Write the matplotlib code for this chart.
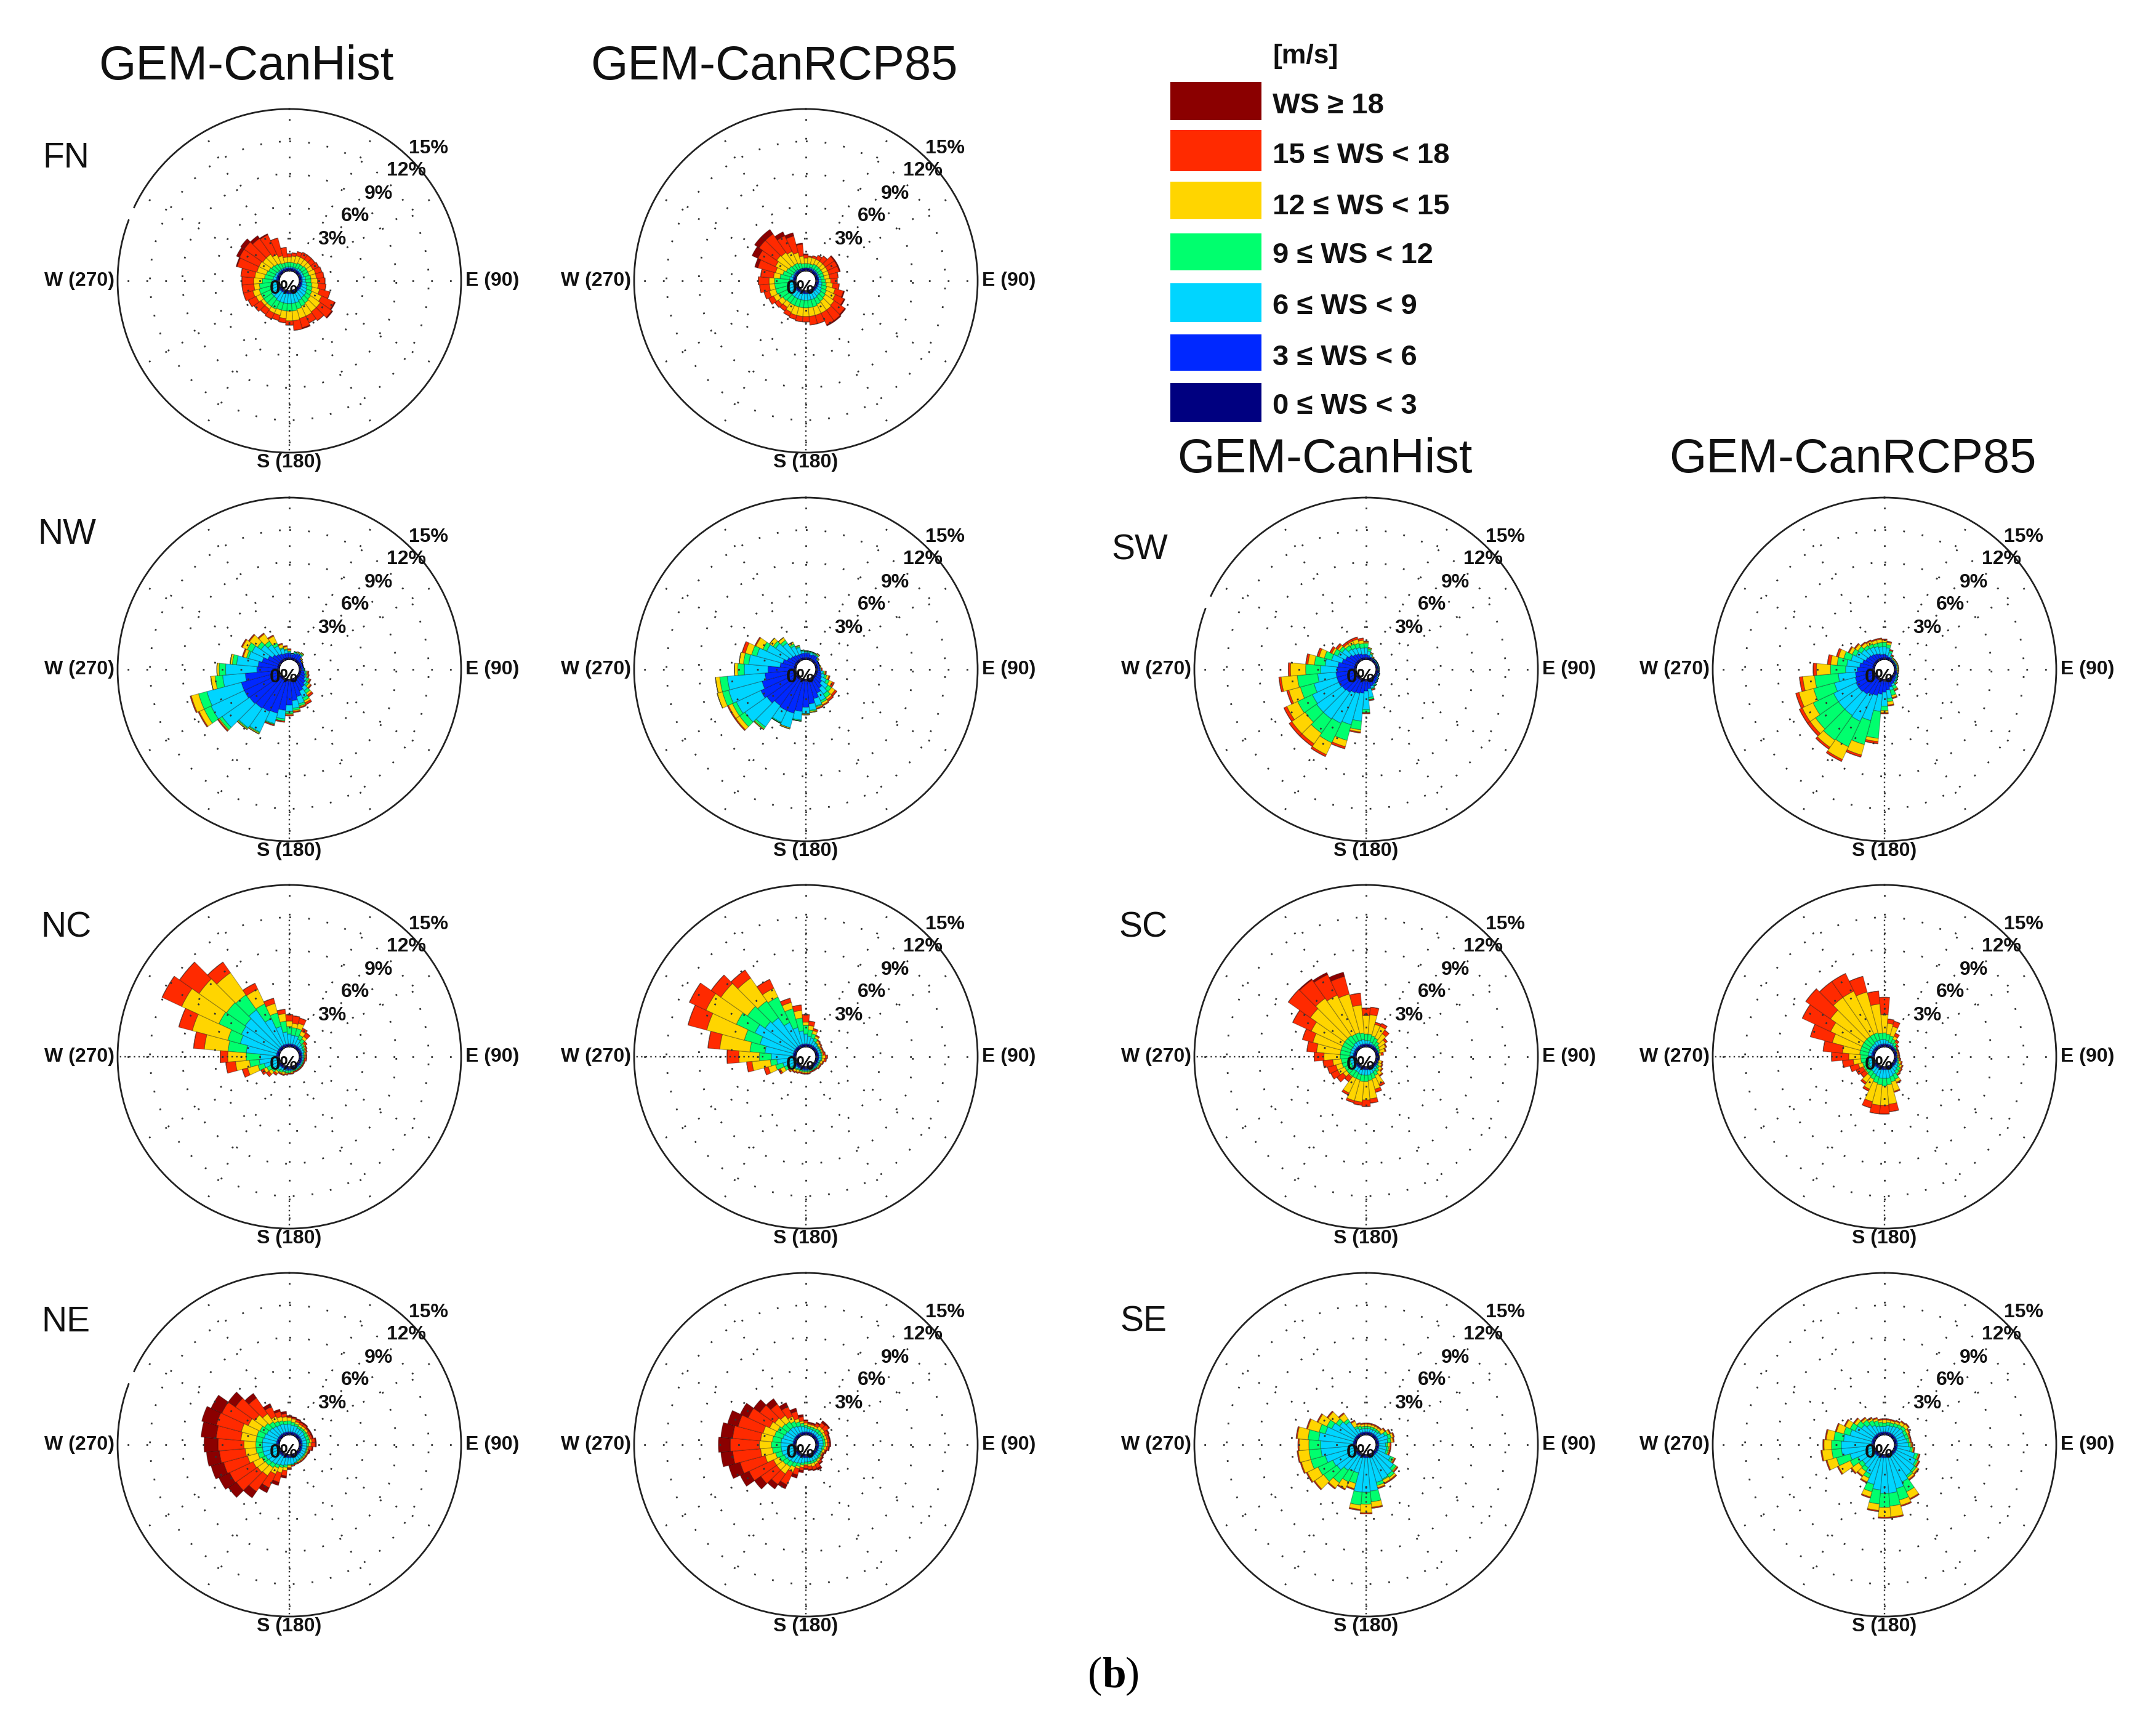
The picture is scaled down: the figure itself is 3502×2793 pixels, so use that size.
import numpy as np
import matplotlib
matplotlib.use("Agg")
import matplotlib.pyplot as plt
from matplotlib.patches import Rectangle

plt.rcParams['font.family'] = ['Liberation Sans', 'DejaVu Sans']

W, H = 3502, 2793
DIRECTIONS = np.arange(0, 360, 10)
CLASS_COLORS = ['#000080', '#0028FF', '#00D5FF', '#00FF6E', '#FFD500', '#FF2A00', '#8B0000']
CLASS_LABELS = ['0 \u2264 WS < 3', '3 \u2264 WS < 6', '6 \u2264 WS < 9', '9 \u2264 WS < 12',
                '12 \u2264 WS < 15', '15 \u2264 WS < 18', 'WS \u2265 18']
UNITS = '[m/s]'
R_TICKS = [3, 6, 9, 12, 15]

# Cumulative outer radius of each class by direction, tenths of a percent.
FN_HIST_CYAN = [4,4,4,4,5,5,5,5,6,6,7,8,9,10,10,11,12,12,12,12,12,12,11,11,10,9,8,7,6,5,5,4,4,4,4,4]
FN_HIST_GREEN = [8,8,8,9,9,10,10,10,11,11,12,13,14,15,16,17,18,19,19,19,19,20,20,20,20,20,19,16,14,13,12,11,10,9,8,8]
FN_HIST_YELLOW = [13,14,15,15,15,15,15,16,16,17,18,20,24,26,26,27,27,28,28,26,24,24,23,23,25,26,24,24,23,22,22,21,21,18,15,13]
FN_HIST_RED = [16,17,19,20,20,20,21,22,23,24,25,30,37,39,36,34,36,37,32,30,29,30,29,31,33,35,35,35,36,41,42,42,39,38,32,22]
FN_HIST_DRED = [16,17,19,20,20,20,21,22,23,24,25,30,38,40,36,34,37,37,32,30,29,30,29,31,33,35,35,35,36,42,45,46,42,39,32,22]

FN_RCP_CYAN = [3,3,4,4,4,4,4,4,5,5,6,6,7,8,8,9,9,9,9,9,9,9,9,9,8,7,7,6,6,5,4,4,4,3,3,3]
FN_RCP_GREEN = [7,7,7,8,8,8,8,8,8,9,10,11,12,13,14,15,16,16,16,16,16,16,16,17,19,20,20,20,15,13,11,10,9,9,8,7]
FN_RCP_YELLOW = [12,13,13,13,13,13,13,13,13,14,16,19,21,23,24,24,24,24,24,24,24,23,21,22,24,26,25,25,21,20,22,24,23,21,18,14]
FN_RCP_RED = [15,14,15,17,19,23,23,23,21,20,22,27,30,35,36,36,32,32,29,29,28,27,25,26,29,31,34,35,33,37,40,44,44,37,34,25]
FN_RCP_DRED = [16,14,15,17,19,24,24,24,21,20,22,28,31,36,37,37,32,32,29,29,28,27,25,26,29,31,34,35,33,40,46,49,49,41,37,26]

NW_HIST_BLUE = [6,5,6,7,7,5,4,4,4,4,5,6,7,9,11,13,17,20,24,29,33,34,35,36,37,37,32,21,20,17,13,10,8,7,6,6]
NW_HIST_CYAN = [7,6,7,8,8,5,4,4,4,4,6,7,9,11,15,20,24,27,30,37,43,55,57,67,71,70,53,50,40,30,29,23,19,15,11,9]
NW_HIST_GREEN = [8,6,8,8,9,5,4,4,4,5,7,8,11,13,18,23,26,29,32,39,44,56,58,70,78,78,60,56,44,32,34,27,23,18,12,10]
NW_HIST_YELLOW = [9,6,8,9,10,6,5,4,4,5,8,9,12,15,20,25,27,30,33,39,44,57,59,71,83,85,64,58,46,35,39,36,31,25,15,12]
NW_HIST_RED = [10,6,8,9,10,6,5,4,4,5,9,10,13,16,22,27,28,31,34,40,45,57,59,72,84,86,64,58,46,36,40,37,32,26,16,13]

NW_RCP_BLUE = [6,6,5,6,6,4,4,4,4,4,5,6,7,9,12,15,19,23,26,30,33,33,32,35,37,33,29,26,15,13,10,8,7,6,6,6]
NW_RCP_CYAN = [7,7,7,7,7,5,4,4,4,5,7,9,12,16,19,23,26,29,32,38,47,45,56,60,62,65,64,48,44,38,31,25,21,15,12,8]
NW_RCP_GREEN = [8,8,8,8,8,5,4,4,4,5,8,11,15,20,23,25,27,30,32,39,47,46,58,66,66,71,71,54,49,43,35,28,24,17,13,9]
NW_RCP_YELLOW = [8,8,8,8,9,6,4,4,5,5,9,13,18,24,25,27,28,31,33,39,48,46,59,70,70,76,75,57,53,49,42,32,27,19,14,9]
NW_RCP_RED = [8,8,8,8,9,6,4,4,5,6,10,14,20,26,27,28,29,31,33,39,48,46,59,71,71,76,75,57,53,52,43,32,27,19,14,9]

NC_HIST_CYAN = [12,11,11,9,7,6,5,5,4,4,4,4,4,4,4,4,4,4,4,4,5,5,6,8,9,15,19,18,31,38,40,41,44,30,20,14]
NC_HIST_GREEN = [19,18,18,13,11,8,7,6,5,5,5,5,5,5,5,5,5,5,6,6,6,7,8,11,14,21,28,31,48,50,63,62,61,45,33,24]
NC_HIST_YELLOW = [24,22,23,17,14,9,8,7,6,6,5,5,5,5,5,5,5,6,6,7,8,8,10,14,17,31,41,48,70,84,101,93,86,60,42,31]
NC_HIST_RED = [30,29,28,20,18,11,9,8,7,7,7,6,6,6,6,6,6,7,7,8,9,9,12,17,20,36,50,55,80,97,121,115,98,66,47,35]

NC_RCP_CYAN = [12,10,9,7,6,5,5,5,5,5,5,4,4,4,4,4,4,4,4,4,4,4,5,6,8,13,18,23,29,35,43,37,35,26,19,15]
NC_RCP_GREEN = [20,16,13,10,7,6,6,6,6,6,6,5,5,5,5,5,5,5,5,5,5,5,6,8,13,20,24,34,43,50,62,57,54,52,37,27]
NC_RCP_YELLOW = [23,20,16,12,9,8,7,7,7,9,8,7,6,6,5,5,5,6,6,6,6,7,8,10,17,27,41,53,71,86,93,87,80,61,43,34]
NC_RCP_RED = [30,24,18,13,10,9,8,8,9,11,10,8,7,7,6,6,6,7,7,7,7,8,9,11,19,31,46,64,82,104,110,98,89,70,47,39]

NE_HIST_CYAN = [10,9,9,8,8,8,7,7,7,7,7,7,7,7,7,7,8,9,9,10,11,12,13,14,15,16,16,16,16,15,14,13,12,11,11,10]
NE_HIST_GREEN = [13,12,11,10,10,10,10,10,10,9,8,8,8,8,8,8,9,10,10,12,13,15,17,18,19,21,22,22,22,22,21,19,17,15,14,13]
NE_HIST_YELLOW = [16,15,13,12,12,12,11,11,12,11,9,9,9,9,9,9,9,10,12,15,18,21,26,27,28,31,32,33,36,37,33,30,26,20,18,17]
NE_HIST_RED = [17,16,15,14,14,13,13,13,15,15,12,10,10,10,10,10,10,11,13,20,27,35,44,51,52,54,56,57,59,61,60,52,44,30,23,20]
NE_HIST_DRED = [18,17,16,15,15,14,14,14,16,16,13,11,10,10,10,10,10,11,14,22,30,40,51,60,63,66,68,70,73,75,71,60,49,33,25,22]

NE_RCP_CYAN = [7,6,6,6,6,6,7,7,7,7,6,6,6,6,7,7,7,7,7,8,9,10,11,12,13,14,14,14,14,13,12,11,11,10,9,8]
NE_RCP_GREEN = [9,8,8,8,9,9,9,9,9,9,8,7,7,8,8,9,9,9,9,10,12,14,16,17,18,20,22,23,22,21,20,18,17,15,13,11]
NE_RCP_YELLOW = [11,10,10,10,12,12,11,11,11,11,10,9,8,9,10,11,12,11,10,12,14,19,24,24,24,30,33,34,33,32,28,26,24,20,16,13]
NE_RCP_RED = [13,11,11,13,16,17,14,13,13,13,12,10,9,10,12,15,15,14,13,15,20,32,36,42,49,54,59,61,59,56,50,43,37,30,23,17]
NE_RCP_DRED = [14,12,12,14,18,18,15,14,14,14,13,11,10,11,13,17,16,15,14,17,23,36,41,49,58,65,70,72,70,66,58,50,43,34,26,19]

SW_HIST_BLUE = [5,4,3,3,2,2,2,2,2,2,3,3,3,4,5,6,7,9,11,13,14,15,17,18,19,19,19,18,17,14,12,10,8,7,6,5]
SW_HIST_CYAN = [11,8,5,3,3,3,3,3,3,3,3,4,4,5,6,7,9,17,28,39,44,46,47,47,46,41,36,33,29,24,20,18,14,13,12,11]
SW_HIST_GREEN = [15,10,6,3,3,3,3,3,3,3,3,4,4,5,6,8,10,19,31,47,59,66,63,60,61,54,55,47,39,31,24,21,18,17,16,15]
SW_HIST_YELLOW = [16,11,7,4,3,3,3,3,3,3,3,4,4,5,6,8,10,19,30,49,65,78,75,75,72,65,70,61,45,36,26,23,20,20,20,18]
SW_HIST_RED = [17,11,7,4,3,3,3,3,3,3,3,4,4,5,6,8,11,20,32,50,67,80,78,78,75,67,72,63,47,38,28,25,22,22,22,20]

SW_RCP_BLUE = [5,4,3,3,2,2,2,2,2,2,3,3,3,4,5,6,8,10,12,14,16,17,19,20,20,19,18,16,14,12,10,9,8,7,6,5]
SW_RCP_CYAN = [12,11,7,4,3,3,3,3,3,3,3,4,4,5,6,8,11,18,25,30,40,44,43,43,43,39,34,27,26,23,20,17,15,14,13,12]
SW_RCP_GREEN = [16,14,9,5,3,3,3,3,3,3,3,4,5,6,7,11,16,21,29,55,63,70,71,69,64,59,56,41,35,30,24,21,18,17,16,16]
SW_RCP_YELLOW = [18,16,9,5,4,4,4,4,4,4,4,4,5,6,8,12,18,24,31,58,73,83,79,75,75,73,67,54,41,35,27,24,21,20,19,19]
SW_RCP_RED = [19,17,10,6,4,4,4,4,4,4,4,4,5,6,8,13,19,25,32,60,75,85,81,78,78,76,70,57,44,37,28,25,22,21,20,20]

SC_HIST_CYAN = [6,6,5,4,4,3,3,3,3,2,2,3,3,4,5,6,7,8,8,8,8,7,7,7,6,6,6,6,6,6,6,6,7,7,7,7]
SC_HIST_GREEN = [12,12,11,10,8,6,5,4,3,2,2,3,4,6,8,10,12,13,14,14,13,13,13,13,13,14,14,15,15,15,15,15,15,14,14,13]
SC_HIST_YELLOW = [29,30,22,22,17,13,11,9,5,2,3,6,7,9,12,19,22,30,31,33,33,28,14,17,20,20,22,30,37,42,47,54,57,54,51,39]
SC_HIST_RED = [36,37,24,25,21,15,12,10,7,3,3,7,8,10,13,21,25,34,37,36,35,30,19,24,27,28,31,39,46,52,66,79,78,75,68,50]
SC_HIST_DRED = [36,37,24,25,21,15,12,10,7,3,3,7,8,10,13,21,25,34,37,36,35,30,19,24,27,28,31,39,46,52,66,79,79,77,72,50]

SC_RCP_CYAN = [7,6,5,5,4,3,3,3,3,3,3,4,5,6,7,9,10,11,11,11,10,9,8,7,7,6,6,6,6,6,6,6,6,7,7,7]
SC_RCP_GREEN = [13,12,11,9,7,5,4,3,3,3,4,5,7,9,10,14,15,17,18,17,16,14,13,12,12,12,13,13,14,14,14,14,14,14,14,13]
SC_RCP_YELLOW = [30,22,20,12,8,5,4,4,4,4,5,7,9,10,11,17,24,35,36,36,34,24,20,13,13,16,20,24,30,41,46,52,58,58,53,40]
SC_RCP_RED = [46,26,25,15,10,7,5,5,5,5,6,8,10,11,12,18,25,42,44,44,40,26,22,18,20,24,30,40,48,62,75,80,76,76,68,52]

SE_HIST_CYAN = [6,6,6,6,6,7,10,12,11,9,10,10,16,22,25,26,27,34,35,35,18,18,20,24,25,30,33,33,35,30,26,21,17,8,6,6]
SE_HIST_GREEN = [8,8,8,8,8,8,13,15,14,11,12,12,19,25,28,27,30,44,46,47,28,29,34,39,40,44,44,44,45,36,31,25,20,10,9,8]
SE_HIST_YELLOW = [10,10,10,10,10,12,15,17,16,13,13,13,20,26,30,30,32,49,54,51,33,36,40,49,51,53,54,53,55,47,40,34,26,15,11,10]
SE_HIST_RED = [11,11,11,11,11,13,16,18,17,14,14,14,21,27,31,31,33,50,55,52,34,37,41,50,52,54,55,54,56,48,41,35,27,16,12,11]

SE_RCP_CYAN = [8,9,9,10,11,12,11,11,12,13,15,20,23,25,26,29,33,36,36,33,29,21,17,16,18,24,31,31,29,24,21,17,14,11,9,8]
SE_RCP_GREEN = [11,12,12,13,14,15,14,14,14,15,17,23,25,27,28,39,44,48,49,46,36,25,21,20,26,37,40,40,38,30,26,22,19,16,14,12]
SE_RCP_YELLOW = [14,14,14,15,17,18,16,15,15,16,18,24,26,29,30,46,49,58,58,52,41,29,26,28,38,46,49,47,45,37,31,25,21,18,16,14]
SE_RCP_RED = [15,15,15,16,18,19,17,16,16,17,19,25,27,30,31,47,50,59,59,53,42,30,27,29,39,47,50,48,46,38,32,26,22,19,17,15]

NAVY_RING = 2
THIN_BLUE = 3

PANELS = [
    # label, column, row, navy, blue, cyan, green, yellow, red, dark red, dense spokes, circle gap
    ('FN', 0, 0, NAVY_RING, THIN_BLUE, FN_HIST_CYAN, FN_HIST_GREEN, FN_HIST_YELLOW, FN_HIST_RED, FN_HIST_DRED, [(180, 3, 15)], True),
    ('', 1, 0, NAVY_RING, THIN_BLUE, FN_RCP_CYAN, FN_RCP_GREEN, FN_RCP_YELLOW, FN_RCP_RED, FN_RCP_DRED, [(180, 3, 15)], False),
    ('NW', 0, 1, NAVY_RING, NW_HIST_BLUE, NW_HIST_CYAN, NW_HIST_GREEN, NW_HIST_YELLOW, NW_HIST_RED, NW_HIST_RED, [(180, 3, 15)], False),
    ('', 1, 1, NAVY_RING, NW_RCP_BLUE, NW_RCP_CYAN, NW_RCP_GREEN, NW_RCP_YELLOW, NW_RCP_RED, NW_RCP_RED, [(180, 3, 15)], False),
    ('NC', 0, 2, NAVY_RING, THIN_BLUE, NC_HIST_CYAN, NC_HIST_GREEN, NC_HIST_YELLOW, NC_HIST_RED, NC_HIST_RED, [(0, 3, 12), (270, 3, 15), (180, 12, 15)], False),
    ('', 1, 2, NAVY_RING, THIN_BLUE, NC_RCP_CYAN, NC_RCP_GREEN, NC_RCP_YELLOW, NC_RCP_RED, NC_RCP_RED, [(0, 3, 12), (270, 3, 15), (180, 12, 15)], False),
    ('NE', 0, 3, NAVY_RING, THIN_BLUE, NE_HIST_CYAN, NE_HIST_GREEN, NE_HIST_YELLOW, NE_HIST_RED, NE_HIST_DRED, [(180, 3, 15)], True),
    ('', 1, 3, NAVY_RING, THIN_BLUE, NE_RCP_CYAN, NE_RCP_GREEN, NE_RCP_YELLOW, NE_RCP_RED, NE_RCP_DRED, [(180, 3, 15)], False),
    ('SW', 2, 1, NAVY_RING, SW_HIST_BLUE, SW_HIST_CYAN, SW_HIST_GREEN, SW_HIST_YELLOW, SW_HIST_RED, SW_HIST_RED, [(180, 3, 15)], True),
    ('', 3, 1, NAVY_RING, SW_RCP_BLUE, SW_RCP_CYAN, SW_RCP_GREEN, SW_RCP_YELLOW, SW_RCP_RED, SW_RCP_RED, [(180, 3, 15)], False),
    ('SC', 2, 2, NAVY_RING, THIN_BLUE, SC_HIST_CYAN, SC_HIST_GREEN, SC_HIST_YELLOW, SC_HIST_RED, SC_HIST_DRED, [(0, 3, 12), (270, 3, 15), (180, 12, 15)], False),
    ('', 3, 2, NAVY_RING, THIN_BLUE, SC_RCP_CYAN, SC_RCP_GREEN, SC_RCP_YELLOW, SC_RCP_RED, SC_RCP_RED, [(0, 3, 12), (270, 3, 15), (180, 12, 15)], False),
    ('SE', 2, 3, NAVY_RING, THIN_BLUE, SE_HIST_CYAN, SE_HIST_GREEN, SE_HIST_YELLOW, SE_HIST_RED, SE_HIST_RED, [(180, 3, 15)], False),
    ('', 3, 3, NAVY_RING, THIN_BLUE, SE_RCP_CYAN, SE_RCP_GREEN, SE_RCP_YELLOW, SE_RCP_RED, SE_RCP_RED, [(180, 3, 15)], False),
]

COL_X = [470, 1309, 2219, 3061]
ROW_Y = [456, 1087, 1716, 2346]
RADIUS = 279
R_ORIGIN = -0.91
LABEL_POS = {'FN': (107, 257), 'NW': (109, 868), 'NC': (107, 1507), 'NE': (107, 2147),
             'SW': (1851, 894), 'SC': (1857, 1507), 'SE': (1857, 2147)}
TITLES = [('GEM-CanHist', 400, 109), ('GEM-CanRCP85', 1257, 109),
          ('GEM-CanHist', 2152, 746), ('GEM-CanRCP85', 3009, 746)]
R_LABEL_OFFSETS = [(69, -67), (107, -105), (145, -141), (190, -179), (226, -215)]
LEGEND_BOXES = [(622, 685), (543, 602), (460, 523), (379, 439), (295, 356), (211, 278), (133, 195)]
LEGEND_TEXT_Y = [660, 581, 498, 415, 336, 253, 172]


def fx(x):
    return x / W


def fy(y):
    return 1 - y / H


fig = plt.figure(figsize=(W / 100, H / 100), dpi=100, facecolor='white')

for (label, col, row, navy, blue, cyan, green, yellow, red, dred, dense, gap) in PANELS:
    cx, cy = COL_X[col], ROW_Y[row]
    ax = fig.add_axes([fx(cx - RADIUS), fy(cy + RADIUS), 2 * RADIUS / W, 2 * RADIUS / H], projection='polar')
    ax.set_theta_zero_location('N')
    ax.set_theta_direction(-1)
    theta = np.deg2rad(DIRECTIONS)
    stack = [np.broadcast_to(np.asarray(v) / 10, (36,)) for v in (navy, blue, cyan, green, yellow, red, dred)]
    bottom = np.zeros(36)
    for top, color in zip(stack, CLASS_COLORS):
        top = np.maximum(top, bottom)
        ax.bar(theta, top - bottom, width=np.deg2rad(10), bottom=bottom, color=color,
               edgecolor=(0, 0, 0, 0.3), linewidth=0.9, zorder=1)
        bottom = top
    ax.set_rorigin(R_ORIGIN)
    ax.set_rlim(0, 15)
    ax.set_rgrids(R_TICKS[:-1], labels=[])
    ax.set_thetagrids(np.arange(0, 360, 30), labels=[])
    ax.set_axisbelow(False)
    ax.grid(True, linestyle=(0, (1, 10)), linewidth=2.0, color='#333333')
    ax.tick_params(length=0)
    ax.spines['polar'].set_linewidth(2.0)
    ax.spines['polar'].set_color('#222222')
    for deg, r0, r1 in dense:
        ax.plot([np.deg2rad(deg)] * 2, [r0, r1], color='#333333', linewidth=1.7,
                linestyle=(0, (1, 2.2)), zorder=2.5)
    if gap:
        arc = np.deg2rad(np.linspace(291.5, 294.5, 8))
        ax.plot(arc, np.full(8, 15), color='white', linewidth=4, clip_on=False, zorder=5)

    def put(dx, dy, s, ha='center'):
        ax.text(0.5 + dx / (2 * RADIUS), 0.5 - dy / (2 * RADIUS), s, transform=ax.transAxes,
                ha=ha, va='center', fontsize=23, fontweight='bold', color='#111111', zorder=6, clip_on=False)

    put(0, 295, 'S (180)')
    put(286, 0, 'E (90)', ha='left')
    put(-284, 0, 'W (270)', ha='right')
    put(-9, 13, '0%')
    for (dx, dy), tick in zip(R_LABEL_OFFSETS, R_TICKS):
        put(dx, dy, f'{tick}%')
    if label:
        fig.text(fx(LABEL_POS[label][0]), fy(LABEL_POS[label][1]), label, fontsize=41,
                 ha='center', va='center', color='#111111')

for text, x, y in TITLES:
    fig.text(fx(x), fy(y), text, fontsize=56, ha='center', va='center', color='#111111')

for (y0, y1), color, text, ty in zip(LEGEND_BOXES, CLASS_COLORS, CLASS_LABELS, LEGEND_TEXT_Y):
    fig.add_artist(Rectangle((fx(1901), fy(y1)), (2049 - 1901) / W, (y1 - y0) / H, transform=fig.transFigure,
                             facecolor=color, edgecolor='none'))
    fig.text(fx(2067), fy(ty), text, fontsize=34, fontweight='bold', ha='left', va='center', color='#111111')
fig.text(fx(2067), fy(92), UNITS, fontsize=32, fontweight='bold', ha='left', va='center', color='#111111')

fig.text(fx(1790), fy(2722), '(', fontsize=50, family='Liberation Serif', ha='right', va='center')
fig.text(fx(1790), fy(2722), 'b', fontsize=50, family='Liberation Serif', fontweight='bold', ha='left', va='center')
fig.text(fx(1828), fy(2722), ')', fontsize=50, family='Liberation Serif', ha='left', va='center')

fig.savefig('out.png', dpi=100, facecolor='white')
